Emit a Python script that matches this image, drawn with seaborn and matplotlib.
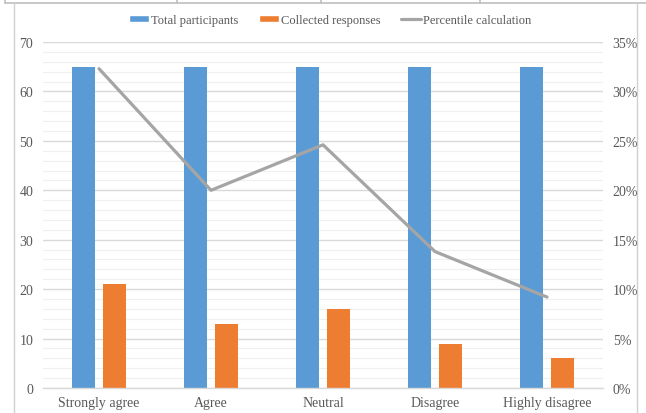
import numpy as np
import pandas as pd
import matplotlib
matplotlib.use("Agg")
import matplotlib.pyplot as plt
from matplotlib.lines import Line2D
from matplotlib.patches import Patch
from matplotlib.ticker import MultipleLocator, PercentFormatter
import seaborn as sns

# Survey data
categories = ["Strongly agree", "Agree", "Neutral", "Disagree", "Highly disagree"]
total_participants = [65, 65, 65, 65, 65]
collected_responses = [21, 13, 16, 9, 6]
percentile = [32.3, 20.0, 24.6, 13.8, 9.2]  # percent
series_names = ["Total participants", "Collected responses", "Percentile calculation"]

BLUE = "#5B9BD5"
ORANGE = "#ED7D31"
GREY = "#A5A5A5"
TEXT = "#595959"

sns.set_theme(style="white")
plt.rcParams["font.family"] = ["Liberation Serif", "DejaVu Serif"]

df = pd.DataFrame({
    "category": categories * 2,
    "value": total_participants + collected_responses,
    "series": [series_names[0]] * len(categories) + [series_names[1]] * len(categories),
})

fig = plt.figure(figsize=(6.46, 4.14), dpi=100)
ax = fig.add_axes([43 / 646, 25 / 414, 560 / 646, 346 / 414])

sns.barplot(data=df, x="category", y="value", hue="series", order=categories,
            hue_order=series_names[:2], palette=[BLUE, ORANGE],
            width=0.55, gap=0.25, ax=ax, legend=False, saturation=1,
            edgecolor="none")

ax.set_xlim(-0.5, len(categories) - 0.5)
ax.set_ylim(0, 70)
ax.yaxis.set_major_locator(MultipleLocator(10))
ax.yaxis.set_minor_locator(MultipleLocator(2))
ax.grid(axis="y", which="major", color="#D9D9D9", linewidth=1.0, zorder=0)
ax.grid(axis="y", which="minor", color="#F0F0F0", linewidth=0.9, zorder=0)
ax.set_axisbelow(True)
ax.set_xlabel("")
ax.set_ylabel("")

# Secondary axis with the percentage line
ax2 = ax.twinx()
sns.lineplot(x=np.arange(len(categories)), y=percentile, ax=ax2,
             color=GREY, linewidth=2.3, sort=False)
ax2.set_ylim(0, 35)
ax2.yaxis.set_major_locator(MultipleLocator(5))
ax2.yaxis.set_major_formatter(PercentFormatter(decimals=0))
ax2.set_xlim(-0.5, len(categories) - 0.5)

for a in (ax, ax2):
    for side in ("top", "left", "right", "bottom"):
        a.spines[side].set_visible(False)
    a.tick_params(axis="y", which="both", length=0, labelsize=10,
                  labelcolor=TEXT, pad=7)

ax.spines["bottom"].set_visible(True)
ax.spines["bottom"].set_color("#D9D9D9")
ax.spines["bottom"].set_linewidth(1.0)

# category labels centred, tick marks at category boundaries
ax.set_xticks(np.arange(len(categories)))
ax.set_xticklabels(categories)
ax.tick_params(axis="x", which="major", length=0, labelsize=10, labelcolor=TEXT, pad=6)
ax.set_xticks(np.arange(-0.5, len(categories)), minor=True)
ax.tick_params(axis="x", which="minor", length=4, color="#D9D9D9", width=1.0)

# Legend
handles = [Patch(facecolor=BLUE), Patch(facecolor=ORANGE),
           Line2D([0], [0], color=GREY, linewidth=2.3)]
fig.legend(handles, series_names, loc="center", bbox_to_anchor=(0.511, 1 - 21 / 414),
           ncol=3, frameon=False, fontsize=9, labelcolor=TEXT,
           handlelength=1.6, handleheight=0.55, handletextpad=0.2, columnspacing=1.6)

# Surrounding frame lines
frame = "#BFBFBF"
fig.add_artist(Line2D([5 / 646, 1], [1 - 4 / 414] * 2, color=frame, lw=1.2, transform=fig.transFigure))
for xpx in (5, 177, 321, 480):
    fig.add_artist(Line2D([xpx / 646] * 2, [1, 1 - 4 / 414], color=frame, lw=1.2, transform=fig.transFigure))
fig.add_artist(Line2D([14 / 646] * 2, [0, 1 - 5 / 414], color="#D0D0D0", lw=1.0, transform=fig.transFigure))
fig.add_artist(Line2D([637 / 646] * 2, [0, 1 - 5 / 414], color="#D0D0D0", lw=1.0, transform=fig.transFigure))

fig.savefig("out.png", dpi=100)
